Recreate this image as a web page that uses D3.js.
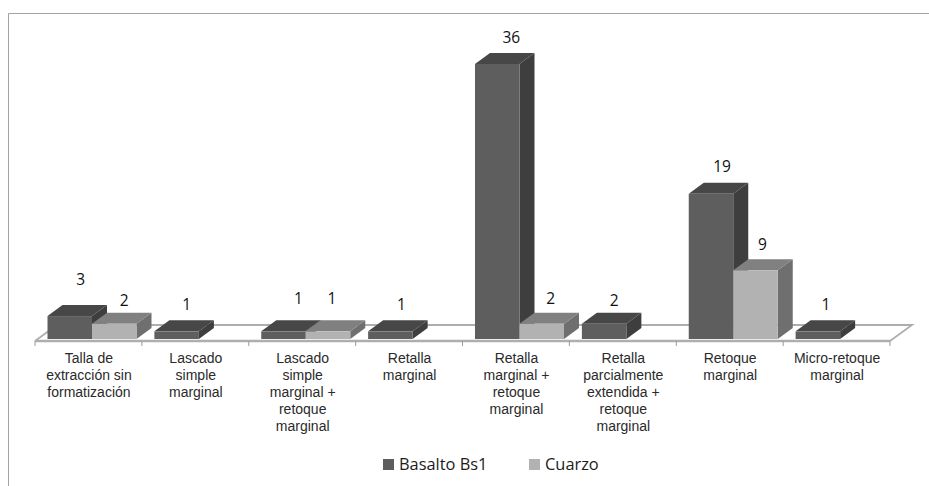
<!DOCTYPE html>
<html>
<head>
<meta charset="utf-8">
<script src="https://cdnjs.cloudflare.com/ajax/libs/d3/7.8.5/d3.min.js"></script>
<style>
  html, body { margin: 0; padding: 0; background: #fff; }
  svg { display: block; }
  .cat { font-family: "Liberation Sans", Arial, sans-serif; font-size: 14px; fill: #2a2a2a; text-anchor: middle; }
  .val { font-family: "Open Sans", "Noto Sans", sans-serif; font-size: 15.5px; fill: #111; text-anchor: middle; }
  .leg { font-family: "Open Sans", "Noto Sans", sans-serif; font-size: 16.4px; fill: #1c1c1c; }
</style>
</head>
<body>
<svg id="chart" width="929" height="486"></svg>
<script>
// Pieces of work per technological category and raw material
const categories = [
  ["Talla de", "extracción sin", "formatización"],
  ["Lascado", "simple", "marginal"],
  ["Lascado", "simple", "marginal +", "retoque", "marginal"],
  ["Retalla", "marginal"],
  ["Retalla", "marginal +", "retoque", "marginal"],
  ["Retalla", "parcialmente", "extendida +", "retoque", "marginal"],
  ["Retoque", "marginal"],
  ["Micro-retoque", "marginal"]
];
const seriesNames = ["Basalto Bs1", "Cuarzo"];
const basalto = [3, 1, 1, 1, 36, 2, 19, 1];
const cuarzo  = [2, 0, 1, 0, 2, 0, 9, 0];

// Face shades for each series: front, top, side
const shades = [
  { front: "#5e5e5e", top: "#474747", side: "#3e3e3e" },
  { front: "#b2b2b2", top: "#808080", side: "#6f6f6f" }
];

// Hand-placed data labels: offset from the front-face centre and the top edge
const labelShift = [
  [[11, -36], [10, -23]],
  [[10, -26], null],
  [[15, -32], [4, -32]],
  [[11, -26], null],
  [[14, -26], [9, -25]],
  [[10, -23], null],
  [[11, -27], [7, -25]],
  [[8, -26], null]
];

const svg = d3.select("#chart");
const floorLeft = 35, floorRight = 890, baseY = 339, floorFront = 341;
const depthX = 15, depthY = 11;

const x = d3.scaleBand().domain(d3.range(categories.length)).range([floorLeft, floorRight]);
const inner = d3.scaleBand().domain(d3.range(seriesNames.length))
  .range([12.5, 12.5 + 89]);
const y = d3.scaleLinear().domain([0, 36]).range([baseY, 64]);

// Outer frame, top and left edges only
svg.append("path").attr("d", "M8.5,486V13.5H929").attr("fill", "none")
  .attr("stroke", "#a3a3a3").attr("stroke-width", 1);

// Chart floor in perspective
const floor = svg.append("g").attr("fill", "none").attr("stroke", "#aeaeae");
floor.append("path")
  .attr("d", `M${floorLeft},${floorFront}L${floorLeft + 22},325H${floorRight + 22}L${floorRight},${floorFront}`)
  .attr("stroke-width", 1.8);
floor.append("line").attr("x1", floorLeft).attr("x2", floorRight)
  .attr("y1", floorFront).attr("y2", floorFront).attr("stroke-width", 2.4);

// Category axis: ticks at band edges, with wrapped labels
const tickPos = x.domain().map(d => x(d)).concat(floorRight);
floor.selectAll("line.tick").data(tickPos).join("line").attr("class", "tick")
  .attr("x1", d => d).attr("x2", d => d)
  .attr("y1", floorFront).attr("y2", floorFront + 5)
  .attr("stroke", "#9a9a9a").attr("stroke-width", 1);

svg.append("g").selectAll("text").data(categories).join("text")
  .attr("class", "cat")
  .attr("transform", (d, i) => `translate(${x(i) + x.bandwidth() / 2 + 0.5},363)`)
  .selectAll("tspan").data(d => d).join("tspan")
  .attr("x", 0).attr("y", (d, i) => i * 16.9).text(d => d);

// Extruded bars, painted left to right so nearer faces overlap correctly
const bars = [];
categories.forEach((c, i) => {
  [basalto[i], cuarzo[i]].forEach((v, s) => { if (v > 0) bars.push({ i, s, v }); });
});

const bar = svg.append("g").selectAll("g").data(bars).join("g");
const x0 = d => x(d.i) + inner(d.s);
const x1 = d => x0(d) + inner.bandwidth();

bar.append("path").attr("fill", d => shades[d.s].side)
  .attr("d", d => `M${x1(d)},${baseY}V${y(d.v)}l${depthX},${-depthY}V${baseY - depthY}Z`);
bar.append("path").attr("fill", d => shades[d.s].top)
  .attr("d", d => `M${x0(d)},${y(d.v)}l${depthX},${-depthY}H${x1(d) + depthX}L${x1(d)},${y(d.v)}Z`);
bar.append("rect").attr("fill", d => shades[d.s].front)
  .attr("x", x0).attr("y", d => y(d.v))
  .attr("width", inner.bandwidth()).attr("height", d => baseY - y(d.v));

// Data labels
svg.append("g").selectAll("text").data(bars).join("text")
  .attr("class", "val")
  .attr("x", d => x0(d) + inner.bandwidth() / 2 + labelShift[d.i][d.s][0])
  .attr("y", d => y(d.v) + labelShift[d.i][d.s][1] + 5)
  .text(d => d.v);

// Legend
const legendX = [383, 529];
const legend = svg.append("g").selectAll("g").data(seriesNames).join("g")
  .attr("transform", (d, i) => `translate(${legendX[i]},459)`);
legend.append("rect").attr("width", 11).attr("height", 11)
  .attr("fill", (d, i) => shades[i].front);
legend.append("text").attr("class", "leg").attr("x", 16).attr("y", 11).text(d => d);
</script>
</body>
</html>
